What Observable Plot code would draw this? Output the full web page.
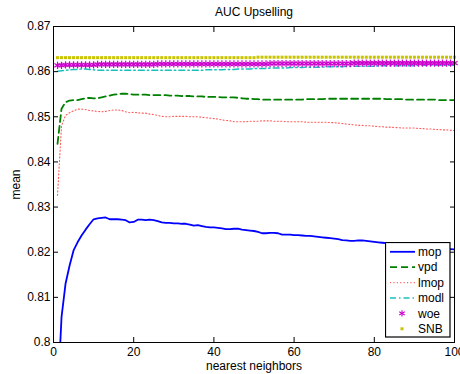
<!DOCTYPE html>
<html><head><meta charset="utf-8">
<script src="https://cdn.jsdelivr.net/npm/d3@7"></script>
<script src="https://cdn.jsdelivr.net/npm/@observablehq/plot@0.6"></script>
<style>
html,body{margin:0;padding:0;background:#fff;}
#wrap{position:relative;width:460px;height:374px;overflow:hidden;}
#legend{position:absolute;left:385px;top:242px;}
</style></head><body><div id="wrap"></div>
<script>
const title = "AUC Upselling";
const xLabel = "nearest neighbors";
const yLabel = "mean";
const xTicks = [0, 20, 40, 60, 80, 100];
const xTickLabels = ["0", "20", "40", "60", "80", "100"];
const yTicks = [0.8, 0.81, 0.82, 0.83, 0.84, 0.85, 0.86, 0.87];
const yTickLabels = ["0.8", "0.81", "0.82", "0.83", "0.84", "0.85", "0.86", "0.87"];
const seriesNames = ["mop", "vpd", "lmop", "modl", "woe", "SNB"];

const neighbors = [1,2,3,4,5,6,7,8,9,10,11,12,13,14,15,16,17,18,19,20,21,22,23,24,25,26,27,28,29,30,
31,32,33,34,35,36,37,38,39,40,41,42,43,44,45,46,47,48,49,50,51,52,53,54,55,56,57,58,59,60,
61,62,63,64,65,66,67,68,69,70,71,72,73,74,75,76,77,78,79,80,81,82,83,84,85,86,87,88,89,90,
91,92,93,94,95,96,97,98,99,100];

const mop = [
0.7870,0.8056,0.8130,0.8170,0.8204,0.8222,0.8237,0.8250,0.8262,0.8273,
0.8275,0.8276,0.8277,0.8273,0.8273,0.8273,0.8272,0.8271,0.8266,0.8267,
0.8272,0.8272,0.8271,0.8272,0.8271,0.8269,0.8266,0.8265,0.8265,0.8264,
0.8264,0.8263,0.8263,0.8261,0.8259,0.8260,0.8258,0.8256,0.8255,0.8255,
0.8254,0.8253,0.8251,0.8251,0.8252,0.8252,0.8250,0.8249,0.8248,0.8247,
0.8245,0.8242,0.8242,0.8243,0.8243,0.8242,0.8239,0.8239,0.8239,0.8238,
0.8238,0.8237,0.8236,0.8236,0.8235,0.8234,0.8233,0.8232,0.8231,0.8230,
0.8229,0.8227,0.8226,0.8225,0.8225,0.8226,0.8226,0.8225,0.8224,0.8223,
0.8222,0.8221,0.8220,0.8219,0.8218,0.8217,0.8216,0.8215,0.8214,0.8213,
0.8212,0.8212,0.8211,0.8210,0.8209,0.8209,0.8208,0.8207,0.8207,0.8206];

const vpd = [
0.8440,0.8518,0.8532,0.8536,0.8537,0.8537,0.8539,0.8541,0.8542,0.8541,
0.8541,0.8543,0.8545,0.8547,0.8549,0.8550,0.8551,0.8551,0.8550,0.8549,
0.8549,0.8549,0.8549,0.8548,0.8548,0.8548,0.8548,0.8548,0.8547,0.8547,
0.8547,0.8546,0.8546,0.8546,0.8545,0.8545,0.8545,0.8544,0.8544,0.8544,
0.8544,0.8543,0.8543,0.8543,0.8543,0.8542,0.8541,0.8540,0.8540,0.8539,
0.8539,0.8538,0.8538,0.8538,0.8538,0.8538,0.8538,0.8538,0.8538,0.8538,
0.8538,0.8538,0.8539,0.8539,0.8539,0.8539,0.8539,0.8540,0.8540,0.8540,
0.8540,0.8540,0.8540,0.8540,0.8540,0.8540,0.8540,0.8540,0.8540,0.8540,
0.8540,0.8540,0.8539,0.8539,0.8539,0.8539,0.8539,0.8538,0.8538,0.8538,
0.8538,0.8538,0.8538,0.8538,0.8538,0.8537,0.8537,0.8537,0.8537,0.8537];

const lmop = [
0.8326,0.8480,0.8503,0.8509,0.8513,0.8517,0.8517,0.8516,0.8514,0.8513,
0.8512,0.8511,0.8512,0.8514,0.8515,0.8515,0.8514,0.8511,0.8509,0.8510,
0.8509,0.8508,0.8508,0.8506,0.8505,0.8503,0.8501,0.8500,0.8500,0.8501,
0.8501,0.8501,0.8501,0.8500,0.8500,0.8500,0.8499,0.8498,0.8497,0.8496,
0.8495,0.8493,0.8492,0.8491,0.8489,0.8489,0.8489,0.8489,0.8490,0.8490,
0.8490,0.8491,0.8491,0.8491,0.8490,0.8490,0.8490,0.8489,0.8489,0.8489,
0.8489,0.8489,0.8488,0.8488,0.8488,0.8488,0.8488,0.8488,0.8487,0.8487,
0.8486,0.8485,0.8484,0.8483,0.8482,0.8481,0.8481,0.8480,0.8480,0.8479,
0.8478,0.8478,0.8477,0.8477,0.8476,0.8476,0.8475,0.8475,0.8475,0.8475,
0.8474,0.8474,0.8473,0.8473,0.8472,0.8472,0.8471,0.8471,0.8470,0.8470];

const modl = [
0.8601,0.8602,0.8603,0.8604,0.8605,0.8605,0.8606,0.8606,0.8605,0.8604,
0.8603,0.8603,0.8603,0.8603,0.8603,0.8603,0.8603,0.8603,0.8603,0.8603,
0.8603,0.8603,0.8603,0.8603,0.8603,0.8603,0.8603,0.8603,0.8603,0.8603,
0.8603,0.8603,0.8603,0.8603,0.8603,0.8603,0.8603,0.8604,0.8604,0.8604,
0.8604,0.8604,0.8605,0.8605,0.8605,0.8606,0.8606,0.8606,0.8606,0.8607,
0.8607,0.8607,0.8607,0.8608,0.8608,0.8608,0.8608,0.8608,0.8609,0.8609,
0.8609,0.8609,0.8610,0.8610,0.8610,0.8610,0.8610,0.8611,0.8611,0.8611,
0.8611,0.8611,0.8612,0.8612,0.8612,0.8612,0.8612,0.8612,0.8612,0.8612,
0.8613,0.8613,0.8613,0.8613,0.8613,0.8613,0.8613,0.8613,0.8613,0.8613,
0.8614,0.8614,0.8614,0.8614,0.8614,0.8614,0.8614,0.8614,0.8614,0.8614];

const woe = [
0.8614,0.8614,0.8615,0.8615,0.8615,0.8615,0.8615,0.8615,0.8615,0.8615,
0.8616,0.8616,0.8616,0.8616,0.8616,0.8616,0.8616,0.8616,0.8616,0.8616,
0.8616,0.8616,0.8616,0.8616,0.8616,0.8617,0.8617,0.8617,0.8617,0.8617,
0.8617,0.8617,0.8617,0.8617,0.8617,0.8617,0.8617,0.8617,0.8617,0.8617,
0.8617,0.8617,0.8617,0.8617,0.8617,0.8617,0.8617,0.8617,0.8617,0.8617,
0.8617,0.8617,0.8617,0.8618,0.8618,0.8618,0.8618,0.8618,0.8618,0.8618,
0.8618,0.8618,0.8618,0.8618,0.8618,0.8618,0.8618,0.8618,0.8618,0.8618,
0.8618,0.8618,0.8618,0.8618,0.8619,0.8619,0.8619,0.8619,0.8619,0.8619,
0.8619,0.8619,0.8619,0.8619,0.8619,0.8619,0.8619,0.8619,0.8619,0.8619,
0.8619,0.8619,0.8619,0.8619,0.8619,0.8619,0.8619,0.8619,0.8619,0.8619];

const snb = [
0.8631,0.8631,0.8631,0.8631,0.8631,0.8631,0.8631,0.8631,0.8631,0.8631,
0.8631,0.8631,0.8631,0.8631,0.8631,0.8631,0.8631,0.8631,0.8631,0.8631,
0.8631,0.8631,0.8631,0.8631,0.8631,0.8631,0.8631,0.8631,0.8631,0.8631,
0.8631,0.8631,0.8631,0.8631,0.8631,0.8631,0.8631,0.8631,0.8631,0.8631,
0.8631,0.8631,0.8631,0.8631,0.8631,0.8631,0.8631,0.8631,0.8631,0.8631,
0.8632,0.8632,0.8632,0.8632,0.8632,0.8632,0.8632,0.8632,0.8632,0.8632,
0.8632,0.8632,0.8632,0.8632,0.8632,0.8632,0.8632,0.8632,0.8632,0.8632,
0.8632,0.8632,0.8632,0.8632,0.8632,0.8632,0.8632,0.8632,0.8632,0.8632,
0.8632,0.8632,0.8632,0.8632,0.8632,0.8632,0.8632,0.8632,0.8632,0.8632,
0.8632,0.8632,0.8632,0.8632,0.8632,0.8632,0.8632,0.8632,0.8632,0.8632];

const font = '"Liberation Sans", Arial, Helvetica, sans-serif';
const styles = {
  mop:  {stroke: "#0000ff", strokeWidth: 1.8},
  vpd:  {stroke: "#008000", strokeWidth: 1.8, strokeDasharray: "7,4"},
  lmop: {stroke: "#ff5c5c", strokeWidth: 1.1, strokeDasharray: "1.1,2.3"},
  modl: {stroke: "#1cbfbf", strokeWidth: 1.5, strokeDasharray: "6,3,1.5,3"},
  woe:  {stroke: "#cc00cc"},
  SNB:  {fill: "#c8c400"}
};
const rows = (vals) => neighbors.map((k, i) => ({k, v: vals[i]}));

const chart = Plot.plot({
  width: 460, height: 374,
  marginLeft: 53, marginRight: 6, marginTop: 26, marginBottom: 32,
  style: {fontFamily: font, fontSize: "12px", background: "white", color: "black"},
  x: {domain: [0, 100]},
  y: {domain: [0.8, 0.87]},
  marks: [
    Plot.line(rows(mop), {x: "k", y: "v", ...styles.mop, clip: true}),
    Plot.line(rows(vpd), {x: "k", y: "v", ...styles.vpd, clip: true}),
    Plot.line(rows(lmop), {x: "k", y: "v", ...styles.lmop, clip: true}),
    Plot.line(rows(modl), {x: "k", y: "v", ...styles.modl, clip: true}),
    Plot.dot(rows(woe), {x: "k", y: "v", symbol: "asterisk", r: 3.4, stroke: styles.woe.stroke, strokeWidth: 1.2}),
    Plot.dot(rows(snb), {x: "k", y: "v", symbol: "square", r: 1.7, fill: styles.SNB.fill, stroke: "none"}),
    Plot.frame({stroke: "black", strokeWidth: 1}),
    // inward ticks on all four sides
    Plot.axisX(xTicks, {anchor: "bottom", tickSize: 5, dy: -5, fill: "none", label: null, tickFormat: () => ""}),
    Plot.axisX(xTicks, {anchor: "top", tickSize: 5, dy: 5, fill: "none", label: null, tickFormat: () => ""}),
    Plot.axisY(yTicks, {anchor: "left", tickSize: 5, dx: 5, fill: "none", label: null, tickFormat: () => ""}),
    Plot.axisY(yTicks, {anchor: "right", tickSize: 5, dx: -5, fill: "none", label: null, tickFormat: () => ""}),
    // tick labels
    Plot.axisX(xTicks, {anchor: "bottom", tickSize: 0, tickPadding: 5, fontSize: 12, label: null,
      tickFormat: d => xTickLabels[xTicks.indexOf(d)]}),
    Plot.axisY(yTicks, {anchor: "left", tickSize: 0, tickPadding: 3, fontSize: 12, label: null,
      tickFormat: d => yTickLabels[yTicks.indexOf(d)]}),
    Plot.text([title], {frameAnchor: "top", lineAnchor: "middle", dy: -14, fontSize: 12, text: d => d}),
    Plot.text([xLabel], {frameAnchor: "bottom", lineAnchor: "middle", dy: 24, fontSize: 12, text: d => d}),
    Plot.text([yLabel], {frameAnchor: "left", textAnchor: "middle", lineAnchor: "middle", dx: -37, rotate: -90, fontSize: 12, text: d => d})
  ]
});
const wrap = document.getElementById("wrap");
wrap.appendChild(chart);

// legend box inside the axes (bottom right)
const lw = 66, lh = 96;
const leg = d3.create("svg").attr("id", "legend").attr("width", lw).attr("height", lh)
  .style("font-family", font).style("font-size", "12px");
leg.append("rect").attr("x", 0.5).attr("y", 0.5).attr("width", lw - 1.5).attr("height", lh - 1.5)
  .attr("fill", "white").attr("stroke", "black").attr("stroke-width", 1.2);
seriesNames.forEach((name, i) => {
  const yc = 9.8 + i * 15.4;
  const s = styles[name];
  if (name === "woe") {
    const r = 3.2, g = leg.append("g").attr("transform", `translate(17,${yc})`)
      .attr("stroke", s.stroke).attr("stroke-width", 1.1);
    [0, 60, 120].forEach(a => {
      const t = a * Math.PI / 180;
      g.append("line").attr("x1", -r * Math.sin(t)).attr("y1", -r * Math.cos(t))
        .attr("x2", r * Math.sin(t)).attr("y2", r * Math.cos(t));
    });
  } else if (name === "SNB") {
    leg.append("rect").attr("x", 15.5).attr("y", yc - 1.5).attr("width", 3).attr("height", 3).attr("fill", s.fill);
  } else {
    leg.append("line").attr("x1", 5).attr("x2", 30).attr("y1", yc).attr("y2", yc)
      .attr("stroke", s.stroke).attr("stroke-width", s.strokeWidth)
      .attr("stroke-dasharray", s.strokeDasharray || null);
  }
  leg.append("text").attr("x", 33).attr("y", yc).attr("dy", "0.35em").attr("fill", "black").text(name);
});
wrap.appendChild(leg.node());
</script>
</body></html>
